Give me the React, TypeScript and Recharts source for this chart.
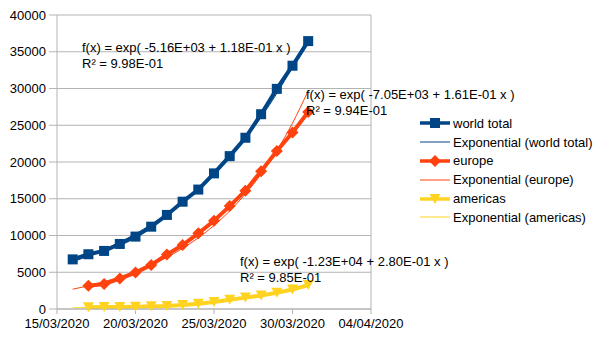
import React from 'react';
import { LineChart, Line, XAxis, YAxis, CartesianGrid, ReferenceLine } from 'recharts';

const dates = [
  '16/03/2020', '17/03/2020', '18/03/2020', '19/03/2020', '20/03/2020', '21/03/2020', '22/03/2020', '23/03/2020',
  '24/03/2020', '25/03/2020', '26/03/2020', '27/03/2020', '28/03/2020', '29/03/2020', '30/03/2020', '31/03/2020',
];
const worldTotal = [6750, 7450, 7900, 8850, 9850, 11200, 12800, 14600, 16250, 18450, 20800, 23300, 26500, 29950, 33100, 36450];
const europe = [null, 3150, 3400, 4150, 4950, 6000, 7400, 8700, 10300, 12000, 14000, 16100, 18750, 21500, 24000, 26800];
const americas = [null, 250, 260, 280, 320, 360, 420, 560, 700, 950, 1250, 1550, 1850, 2200, 2650, 3250];

const xTickLabels = ['15/03/2020', '20/03/2020', '25/03/2020', '30/03/2020', '04/04/2020'];
const yTicks = [0, 5000, 10000, 15000, 20000, 25000, 30000, 35000, 40000];

const equations = [
  { f: 'f(x) = exp( -5.16E+03 + 1.18E-01 x )', r: 'R² = 9.98E-01' },
  { f: 'f(x) = exp( -7.05E+03 + 1.61E-01 x )', r: 'R² = 9.94E-01' },
  { f: 'f(x) = exp( -1.23E+04 + 2.80E-01 x )', r: 'R² = 9.85E-01' },
];

const BLUE = '#004586';
const RED = '#ff420e';
const YELLOW = '#ffd320';
const GRID = '#b3b3b3';
const FONT = '"Liberation Sans", Arial, sans-serif';
const FS = 13;

// days since 15/03/2020
const toDay = (s: string) => {
  const [d, m, y] = s.split('/').map(Number);
  return (Date.UTC(y, m - 1, d) - Date.UTC(2020, 2, 15)) / 86400000;
};

// exponential trend: least squares on ln(y)
const expFit = (xs: number[], ys: (number | null)[]) => {
  let n = 0, sx = 0, sy = 0, sxx = 0, sxy = 0;
  xs.forEach((x, i) => {
    const v = ys[i];
    if (v == null) return;
    const ly = Math.log(v);
    n++; sx += x; sy += ly; sxx += x * x; sxy += x * ly;
  });
  const b = (n * sxy - sx * sy) / (n * sxx - sx * sx);
  const a = (sy - b * sx) / n;
  return (x: number) => Math.exp(a + b * x);
};

const days = dates.map(toDay);
const worldFit = expFit(days, worldTotal);
const europeFit = expFit(days, europe);
const americasFit = expFit(days, americas);

const data = dates.map((d, i) => ({
  day: days[i],
  world: worldTotal[i],
  europe: europe[i],
  americas: americas[i],
  worldTrend: worldFit(days[i]),
  europeTrend: europeFit(days[i]),
  americasTrend: americasFit(days[i]),
}));

const xTicks = xTickLabels.map(toDay);

const Square = (props: any) => {
  const { cx, cy, value, index } = props;
  if (value == null || cx == null) return <g key={`s${index}`} />;
  return <rect key={`s${index}`} x={cx - 5} y={cy - 5} width={10} height={10} fill={BLUE} />;
};

const Diamond = (props: any) => {
  const { cx, cy, value, index } = props;
  if (value == null || cx == null) return <g key={`d${index}`} />;
  return (
    <polygon key={`d${index}`} points={`${cx},${cy - 6} ${cx + 6},${cy} ${cx},${cy + 6} ${cx - 6},${cy}`} fill={RED} />
  );
};

const Triangle = (props: any) => {
  const { cx, cy, value, index } = props;
  if (value == null || cx == null) return <g key={`t${index}`} />;
  return (
    <polygon key={`t${index}`} points={`${cx - 5.5},${cy - 5} ${cx + 5.5},${cy - 5} ${cx},${cy + 5}`} fill={YELLOW} />
  );
};

const legendItems = [
  { label: 'world total', color: BLUE, marker: 'square' },
  { label: 'Exponential (world total)', color: BLUE },
  { label: 'europe', color: RED, marker: 'diamond' },
  { label: 'Exponential (europe)', color: RED },
  { label: 'americas', color: YELLOW, marker: 'triangle' },
  { label: 'Exponential (americas)', color: YELLOW },
];

const LegendSymbol = ({ color, marker }: { color: string; marker?: string }) => (
  <svg width={30} height={12} style={{ marginRight: 3, flexShrink: 0 }}>
    <line x1={0} y1={6} x2={30} y2={6} stroke={color} strokeWidth={marker ? 3.5 : 1} />
    {marker === 'square' && <rect x={10} y={1} width={10} height={10} fill={color} />}
    {marker === 'diamond' && <polygon points="15,0 21,6 15,12 9,6" fill={color} />}
    {marker === 'triangle' && <polygon points="9.5,1 20.5,1 15,11" fill={color} />}
  </svg>
);

const eqPos = [
  { left: 82, top: 40 },
  { left: 306, top: 87 },
  { left: 240, top: 254 },
];

export default function App() {
  return (
    <div style={{ position: 'absolute', left: 0, top: 0, width: 605, height: 340, background: '#fff', fontFamily: FONT }}>
      <LineChart width={605} height={340} data={data} margin={{ top: 15, right: 234, bottom: 0, left: 0 }}>
        <CartesianGrid vertical={false} stroke={GRID} />
        <XAxis
          type="number"
          dataKey="day"
          domain={[0, 20]}
          ticks={xTicks}
          tickFormatter={(v) => xTickLabels[xTicks.indexOf(v)] ?? ''}
          height={31}
          stroke={GRID}
          tickSize={5}
          tickMargin={5}
          tick={{ fill: '#000', fontSize: FS, fontFamily: FONT }}
        />
        <YAxis
          domain={[0, 40000]}
          ticks={yTicks}
          width={57}
          stroke={GRID}
          tickSize={8}
          tickMargin={3}
          interval={0}
          tick={{ fill: '#000', fontSize: FS, fontFamily: FONT }}
        />
        <ReferenceLine x={20} stroke={GRID} />
        <Line dataKey="world" stroke={BLUE} strokeWidth={4} dot={Square} activeDot={false} isAnimationActive={false} />
        <Line dataKey="europe" stroke={RED} strokeWidth={4} dot={Diamond} activeDot={false} isAnimationActive={false} />
        <Line dataKey="americas" stroke={YELLOW} strokeWidth={4} dot={Triangle} activeDot={false} isAnimationActive={false} />
        <Line type="monotone" dataKey="worldTrend" stroke={BLUE} strokeWidth={1} dot={false} activeDot={false} isAnimationActive={false} />
        <Line type="monotone" dataKey="europeTrend" stroke={RED} strokeWidth={1} dot={false} activeDot={false} isAnimationActive={false} />
        <Line type="monotone" dataKey="americasTrend" stroke={YELLOW} strokeWidth={1} dot={false} activeDot={false} isAnimationActive={false} />
      </LineChart>

      {equations.map((eq, i) => (
        <div
          key={i}
          style={{ position: 'absolute', left: eqPos[i].left, top: eqPos[i].top, fontSize: FS, lineHeight: '15.5px', color: '#000', whiteSpace: 'nowrap' }}
        >
          <div>{eq.f}</div>
          <div>{eq.r}</div>
        </div>
      ))}

      <div style={{ position: 'absolute', left: 420, top: 114 }}>
        {legendItems.map((it) => (
          <div key={it.label} style={{ display: 'flex', alignItems: 'center', height: 18.8, fontSize: FS, color: '#000', whiteSpace: 'nowrap' }}>
            <LegendSymbol color={it.color} marker={it.marker} />
            <span>{it.label}</span>
          </div>
        ))}
      </div>
    </div>
  );
}
